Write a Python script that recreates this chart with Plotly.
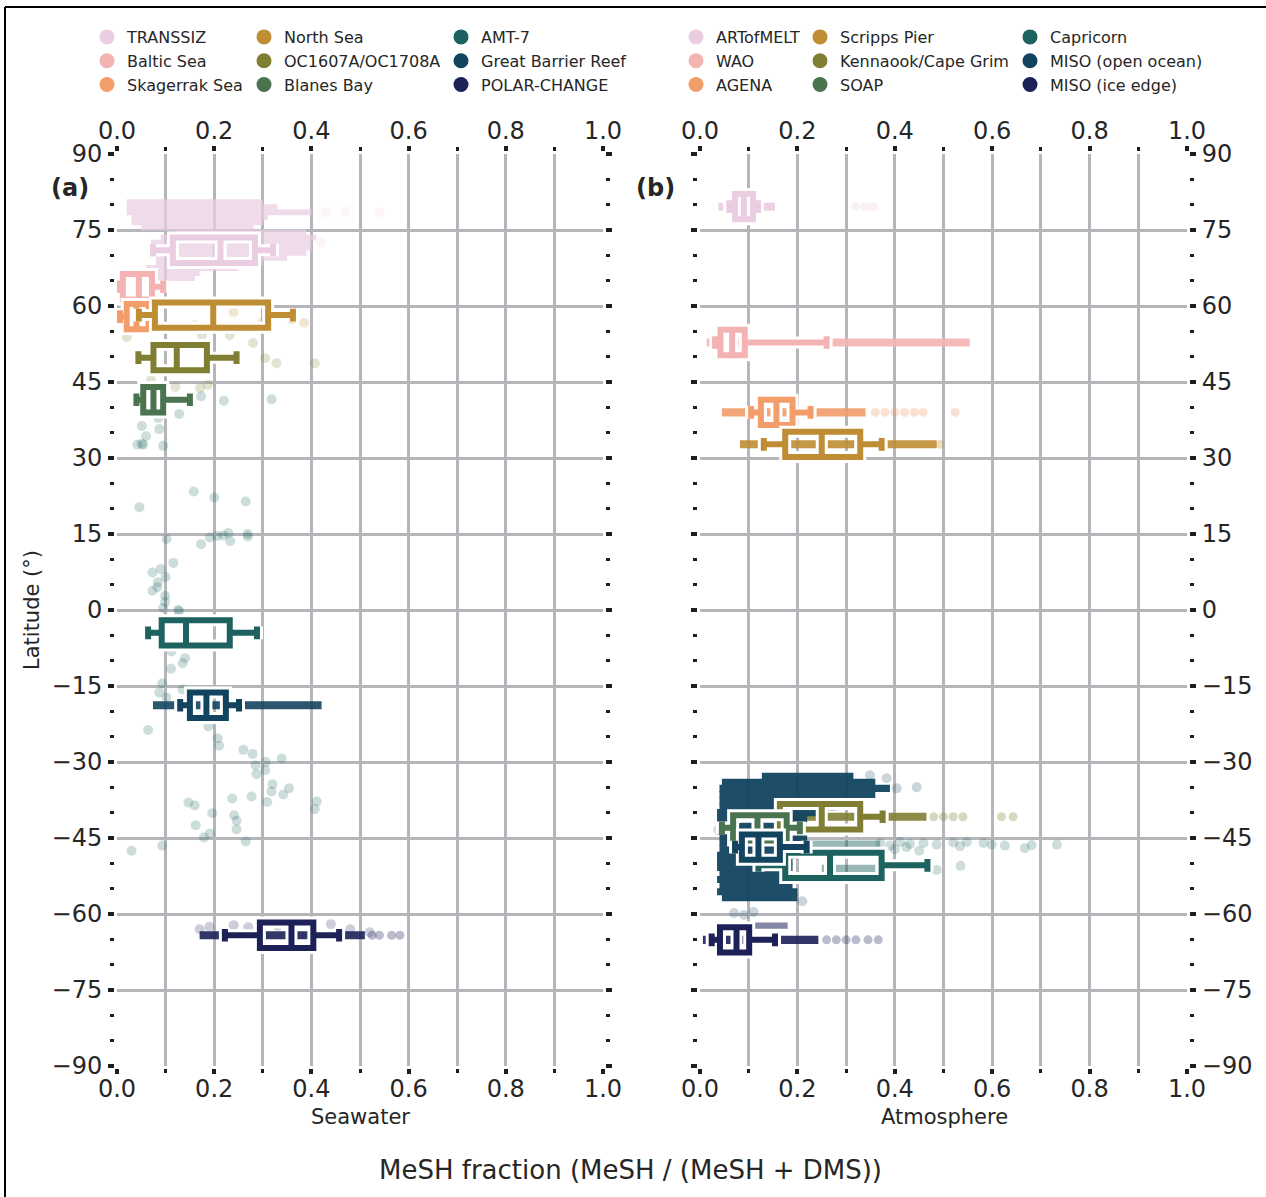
import plotly.graph_objects as go

W, H = 1266, 1197
FONT = "DejaVu Sans"
TXT = "#262626"
GRID = "#b6b6ba"
SPINE = "#1e1e1e"

COLORS = ["#EBCDE2", "#F4B3B3", "#F29D6A", "#BF8D33", "#7F7E33",
          "#4A7350", "#1D625F", "#13445F", "#1C2158"]

# ---------------- Seawater (panel a) ----------------
SW_NAMES = ["TRANSSIZ", "Baltic Sea", "Skagerrak Sea", "North Sea", "OC1607A/OC1708A",
            "Blanes Bay", "AMT-7", "Great Barrier Reef", "POLAR-CHANGE"]
SW_LAT = [71.0, 63.8, 57.9, 58.2, 49.8, 41.5, -4.5, -18.8, -64.2]
SW_LO = [0.074, 0.002, 0.006, 0.045, 0.044, 0.040, 0.064, 0.130, 0.222]
SW_Q1 = [0.115, 0.012, 0.020, 0.078, 0.075, 0.054, 0.092, 0.150, 0.294]
SW_MED = [0.213, 0.045, 0.040, 0.198, 0.123, 0.075, 0.142, 0.184, 0.359]
SW_Q3 = [0.284, 0.072, 0.065, 0.311, 0.185, 0.095, 0.232, 0.224, 0.404]
SW_HI = [0.321, 0.095, 0.078, 0.362, 0.246, 0.150, 0.288, 0.251, 0.457]

# dense flier runs drawn at the box latitude: (x start, x end)
SW_FLIER_LINE = {"Great Barrier Reef": (0.074, 0.421), "POLAR-CHANGE": (0.170, 0.510)}
# isolated fliers at the box latitude
SW_FLIER_PTS = {"POLAR-CHANGE": [0.525, 0.540, 0.565, 0.582]}
# dense clouds of samples: (latitude, x start, x end)
SW_CLOUD = {
    "TRANSSIZ": [(80.5, 0.02, 0.30), (79.5, 0.02, 0.33), (78.5, 0.02, 0.40), (77.5, 0.03, 0.31),
                 (76.5, 0.03, 0.30), (75.5, 0.05, 0.28), (74.5, 0.12, 0.39), (73.5, 0.09, 0.41),
                 (72.5, 0.07, 0.40), (71.5, 0.07, 0.40), (70.5, 0.07, 0.39), (69.5, 0.08, 0.35),
                 (68.5, 0.08, 0.30), (67.5, 0.06, 0.25), (66.5, 0.05, 0.17), (65.5, 0.05, 0.16)],
}
# individual samples: (x, latitude)
SW_POINTS = {
    "TRANSSIZ": [(0.43, 78.5), (0.47, 78.6), (0.54, 78.5), (0.42, 72.5)],
    "North Sea": [(0.20, 57.4), (0.24, 58.8), (0.30, 56.8), (0.36, 57.4), (0.385, 56.7),
                  (0.16, 56.2), (0.27, 55.8)],
    "OC1607A/OC1708A": [(0.02, 53.9), (0.175, 54.3), (0.232, 54.3), (0.28, 52.7), (0.305, 49.7),
                        (0.328, 48.7), (0.407, 48.7), (0.12, 44.0), (0.171, 43.8), (0.187, 44.4),
                        (0.07, 45.5)],
    "AMT-7": [(0.051, 36.3), (0.060, 34.3), (0.087, 35.7), (0.042, 32.6), (0.054, 32.6),
              (0.051, 32.8), (0.095, 32.4), (0.128, 38.7), (0.085, 37.9), (0.173, 42.2),
              (0.220, 41.3), (0.318, 41.6), (0.158, 23.4), (0.046, 20.3), (0.200, 22.2),
              (0.265, 21.4), (0.102, 14.0), (0.173, 13.0), (0.191, 14.3), (0.206, 14.6),
              (0.219, 14.7), (0.229, 15.2), (0.233, 13.6), (0.269, 15.0), (0.269, 14.5),
              (0.116, 9.3), (0.073, 7.4), (0.090, 8.1), (0.100, 6.5), (0.084, 5.5),
              (0.073, 3.8), (0.083, 4.5), (0.099, 2.8), (0.099, 1.6), (0.095, 0.4),
              (0.128, -0.2), (0.126, 0.0), (0.112, -8.2), (0.140, -9.5), (0.135, -10.5),
              (0.111, -11.6), (0.093, -14.5), (0.087, -16.3), (0.135, -15.7), (0.102, -17.3),
              (0.064, -23.7), (0.188, -23.0), (0.207, -25.3), (0.210, -26.8), (0.260, -27.6),
              (0.279, -28.4), (0.285, -30.7), (0.287, -32.4), (0.306, -30.0), (0.305, -31.6),
              (0.339, -29.3), (0.320, -34.4), (0.318, -35.8), (0.354, -35.2), (0.342, -36.4),
              (0.277, -36.8), (0.309, -37.9), (0.237, -37.2), (0.147, -38.0), (0.160, -38.6),
              (0.196, -40.1), (0.241, -40.5), (0.246, -41.6), (0.246, -43.3), (0.162, -42.5),
              (0.179, -44.9), (0.191, -44.1), (0.265, -45.7), (0.411, -37.8), (0.407, -39.3),
              (0.030, -47.5), (0.093, -46.5)],
    "POLAR-CHANGE": [(0.17, -63.0), (0.19, -62.5), (0.24, -62.2), (0.27, -62.6), (0.30, -62.0),
                     (0.33, -62.3), (0.40, -62.5), (0.44, -62.0), (0.48, -63.0), (0.52, -63.6)],
}

# ---------------- Atmosphere (panel b) ----------------
AT_NAMES = ["ARTofMELT", "WAO", "AGENA", "Scripps Pier", "Kennaook/Cape Grim",
            "SOAP", "Capricorn", "MISO (open ocean)", "MISO (ice edge)"]
AT_LAT = [79.6, 52.8, 39.0, 32.7, -40.8, -43.0, -50.4, -46.8, -65.1]
AT_LO = [0.060, 0.031, 0.105, 0.131, 0.072, 0.045, 0.120, 0.072, 0.024]
AT_Q1 = [0.072, 0.042, 0.125, 0.175, 0.164, 0.068, 0.175, 0.086, 0.041]
AT_MED = [0.090, 0.066, 0.157, 0.250, 0.250, 0.118, 0.267, 0.120, 0.075]
AT_Q3 = [0.109, 0.092, 0.190, 0.329, 0.329, 0.178, 0.373, 0.164, 0.101]
AT_HI = [0.119, 0.260, 0.227, 0.373, 0.375, 0.205, 0.467, 0.219, 0.154]

AT_FLIER_LINE = {"ARTofMELT": (0.038, 0.154), "WAO": (0.014, 0.554), "AGENA": (0.045, 0.340),
                 "Scripps Pier": (0.082, 0.486), "Kennaook/Cape Grim": (0.130, 0.465),
                 "MISO (ice edge)": (0.006, 0.243)}
AT_FLIER_PTS = {"ARTofMELT": [0.320, 0.339, 0.356],
                "AGENA": [0.36, 0.38, 0.40, 0.42, 0.44, 0.458, 0.524],
                "Scripps Pier": [0.493],
                "Kennaook/Cape Grim": [0.48, 0.50, 0.52, 0.54, 0.619, 0.643],
                "MISO (ice edge)": [0.26, 0.28, 0.30, 0.32, 0.345, 0.366]}
AT_CLOUD = {
    "MISO (open ocean)": [(-32.8, 0.127, 0.315), (-34.0, 0.045, 0.36), (-35.2, 0.040, 0.39),
                          (-36.4, 0.040, 0.36), (-37.6, 0.040, 0.30), (-38.8, 0.040, 0.28),
                          (-40.0, 0.035, 0.25), (-41.2, 0.035, 0.22), (-42.4, 0.035, 0.20),
                          (-43.6, 0.035, 0.20), (-44.8, 0.040, 0.22), (-46.0, 0.040, 0.22),
                          (-47.2, 0.040, 0.20), (-48.4, 0.035, 0.20), (-49.6, 0.035, 0.19),
                          (-50.8, 0.035, 0.19), (-52.0, 0.040, 0.18), (-53.2, 0.035, 0.18),
                          (-54.4, 0.040, 0.19), (-55.6, 0.035, 0.20), (-56.8, 0.045, 0.20)],
    "Capricorn": [(-46.2, 0.13, 0.37), (-51.0, 0.25, 0.36)],
    "MISO (ice edge)": [(-62.3, 0.09, 0.18)],
}
AT_POINTS = {
    "SOAP": [(0.037, -43.4), (0.060, -42.0)],
    "Capricorn": [(0.370, -46.0), (0.390, -46.5), (0.411, -45.8), (0.424, -46.8), (0.431, -46.2),
                  (0.459, -46.0), (0.486, -46.3), (0.520, -45.9), (0.534, -46.6), (0.548, -45.8),
                  (0.582, -46.0), (0.599, -46.3), (0.626, -46.5), (0.667, -47.0), (0.681, -46.4),
                  (0.733, -46.3), (0.486, -51.3), (0.535, -50.5), (0.400, -47.2), (0.450, -47.5)],
    "MISO (open ocean)": [(0.349, -32.6), (0.383, -33.2), (0.404, -35.2), (0.445, -35.0),
                          (0.07, -59.8), (0.09, -60.2), (0.11, -59.6), (0.21, -57.5)],
}

CLOUD_STYLE = {"TRANSSIZ": (0.7, 1.15), "MISO (open ocean)": (0.95, 1.4),
               "Capricorn": (0.45, 1.4), "MISO (ice edge)": (0.55, 1.2)}

fig = go.Figure()


def add_panel(names, lat, lo, q1, med, q3, hi, fline, fpts, cloud, points, xa, ya):
    for i, n in enumerate(names):
        c = COLORS[i]
        if n in cloud:
            rows = cloud[n]
            alpha, thick = CLOUD_STYLE[n]
            fig.add_trace(go.Bar(
                y=[r[0] for r in rows], x=[r[2] - r[1] for r in rows], base=[r[1] for r in rows],
                orientation="h", width=thick, marker=dict(color=c, line=dict(width=0)),
                opacity=alpha, xaxis=xa, yaxis=ya, showlegend=False,
                hoverinfo="skip", zorder=0))
        if n in fline:
            a, b = fline[n]
            fig.add_trace(go.Bar(
                y=[lat[i]], x=[b - a], base=[a], orientation="h", width=1.6,
                marker=dict(color=c, line=dict(width=0)), opacity=0.9,
                xaxis=xa, yaxis=ya, showlegend=False, hoverinfo="skip", zorder=0))
        if n in fpts:
            xs = fpts[n]
            fig.add_trace(go.Scatter(
                x=xs, y=[lat[i]] * len(xs), mode="markers",
                marker=dict(color=c, size=9, opacity=0.3, line=dict(width=0)),
                xaxis=xa, yaxis=ya, showlegend=False, hoverinfo="skip", zorder=0))
        if n in points:
            pts = points[n]
            fig.add_trace(go.Scatter(
                x=[p[0] for p in pts], y=[p[1] for p in pts], mode="markers",
                marker=dict(color=c, size=10, opacity=0.22, line=dict(width=0)),
                xaxis=xa, yaxis=ya, showlegend=False, hoverinfo="skip", zorder=0))
    for i, n in enumerate(names):
        for lc, lw in (("white", 12), (COLORS[i], 6)):
            fig.add_trace(go.Box(
                y=[lat[i]], q1=[q1[i]], median=[med[i]], q3=[q3[i]],
                lowerfence=[lo[i]], upperfence=[hi[i]],
                orientation="h", width=5, whiskerwidth=0.5,
                line=dict(color=lc, width=lw), fillcolor="rgba(0,0,0,0)", boxpoints=False,
                xaxis=xa, yaxis=ya, showlegend=False, hoverinfo="skip", zorder=1))


add_panel(SW_NAMES, SW_LAT, SW_LO, SW_Q1, SW_MED, SW_Q3, SW_HI,
          SW_FLIER_LINE, SW_FLIER_PTS, SW_CLOUD, SW_POINTS, "x", "y")
add_panel(AT_NAMES, AT_LAT, AT_LO, AT_Q1, AT_MED, AT_Q3, AT_HI,
          AT_FLIER_LINE, AT_FLIER_PTS, AT_CLOUD, AT_POINTS, "x2", "y2")

# legend entries (three columns per panel)
for p, (names, xa, ya) in enumerate(((SW_NAMES, "x3", "y"), (AT_NAMES, "x4", "y2"))):
    for i, n in enumerate(names):
        k = p * 3 + i // 3
        leg = "legend" if k == 0 else "legend%d" % (k + 1)
        fig.add_trace(go.Scatter(x=[None], y=[None], mode="markers", name=n,
                                 marker=dict(color=COLORS[i], size=15),
                                 xaxis=xa, yaxis=ya, legend=leg, hoverinfo="skip"))


def px(x):
    return x / W


def py(y):
    return 1 - y / H


tickfont = dict(family=FONT, size=24, color=TXT)
xbase = dict(range=[0, 1], tick0=0, dtick=0.2, tickformat=".1f", zeroline=False,
             showline=True, linecolor=SPINE, linewidth=3, ticks="outside", ticklen=5,
             tickwidth=4, tickcolor=SPINE, tickfont=tickfont, automargin=False)
xmain = dict(xbase, showgrid=True, gridcolor=GRID, gridwidth=2.5, mirror=True,
             ticklabelstandoff=-6,
             minor=dict(dtick=0.1, tick0=0, showgrid=True, gridcolor=GRID, gridwidth=2.5,
                        ticks="outside", ticklen=4, tickwidth=2.5, tickcolor=SPINE))
xtop = dict(xbase, showgrid=False, side="top", ticklabelstandoff=-3,
            minor=dict(dtick=0.1, tick0=0, showgrid=False,
                       ticks="outside", ticklen=4, tickwidth=2.5, tickcolor=SPINE))
ybase = dict(range=[-90, 90], tick0=0, dtick=15, zeroline=False, showgrid=True,
             gridcolor=GRID, gridwidth=2.5, showline=True, linecolor=SPINE, linewidth=3,
             mirror="ticks", ticks="outside", ticklen=6, tickwidth=4, tickcolor=SPINE,
             tickfont=tickfont, ticklabelstandoff=1, automargin=False,
             minor=dict(dtick=5, tick0=0, showgrid=False, ticks="outside", ticklen=4,
                        tickwidth=2.5, tickcolor=SPINE),
             domain=[py(1066), py(154)])

legfont = dict(family=FONT, size=16, color=TXT)
LEG_X = [107, 264, 461, 696, 820, 1030]
legends = {}
for k, lx in enumerate(LEG_X):
    key = "legend" if k == 0 else "legend%d" % (k + 1)
    legends[key] = dict(x=px(lx - 20), y=py(20), xanchor="left", yanchor="top",
                        orientation="v", font=legfont, bgcolor="rgba(0,0,0,0)",
                        borderwidth=0, tracegroupgap=0, itemclick=False)

fig.update_layout(
    template="none",
    width=W, height=H, autosize=False, margin=dict(l=0, r=0, t=0, b=0, pad=0),
    paper_bgcolor="white", plot_bgcolor="white",
    barmode="overlay", boxmode="overlay",
    font=dict(family=FONT, color=TXT),
    xaxis=dict(xmain, domain=[px(117), px(603)], anchor="y"),
    xaxis2=dict(xmain, domain=[px(700), px(1187)], anchor="y2"),
    xaxis3=dict(xtop, overlaying="x", anchor="y"),
    xaxis4=dict(xtop, overlaying="x2", anchor="y2"),
    yaxis=dict(ybase, anchor="x", side="left"),
    yaxis2=dict(ybase, anchor="x2", side="right"),
    **legends,
)

ann = [
    dict(text="<b>(a)</b>", x=px(70), y=py(188), size=24),
    dict(text="<b>(b)</b>", x=px(655), y=py(188), size=24),
    dict(text="Seawater", x=px(360), y=py(1117), size=21),
    dict(text="Atmosphere", x=px(944), y=py(1117), size=21),
    dict(text="MeSH fraction (MeSH / (MeSH + DMS))", x=px(630), y=py(1170), size=26),
]
for a in ann:
    fig.add_annotation(text=a["text"], x=a["x"], y=a["y"], xref="paper", yref="paper",
                       xanchor="center", yanchor="middle", showarrow=False,
                       font=dict(family=FONT, size=a["size"], color=TXT))
fig.add_annotation(text="Latitude (°)", x=px(32), y=py(610), xref="paper", yref="paper",
                   xanchor="center", yanchor="middle", showarrow=False, textangle=-90,
                   font=dict(family=FONT, size=21, color=TXT))

fig.add_shape(type="line", xref="paper", yref="paper", x0=px(5), x1=px(5), y0=py(7), y1=0,
              line=dict(color="black", width=2))
fig.add_shape(type="line", xref="paper", yref="paper", x0=px(5), x1=1, y0=py(7), y1=py(7),
              line=dict(color="black", width=2))

fig.write_html("out.html")
